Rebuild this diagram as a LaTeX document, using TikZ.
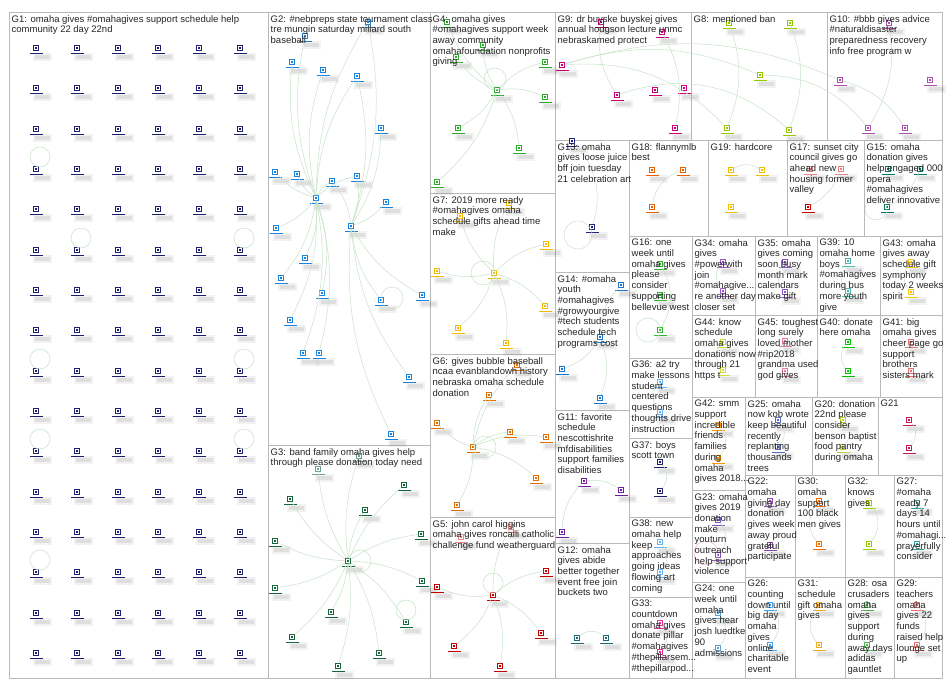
\documentclass[tikz,border=0pt]{standalone}
\usepackage{fontspec}
\setmainfont{Liberation Sans}
\definecolor{frame}{RGB}{185,185,185}
\definecolor{conncol}{RGB}{200,226,200}
\definecolor{cGa}{RGB}{30,30,110}
\definecolor{cGb}{RGB}{25,130,220}
\definecolor{cGc}{RGB}{20,100,60}
\definecolor{cGcl}{RGB}{110,160,140}
\definecolor{cGd}{RGB}{40,170,40}
\definecolor{cGe}{RGB}{195,0,0}
\definecolor{cGel}{RGB}{235,140,140}
\definecolor{cGf}{RGB}{225,110,0}
\definecolor{cGg}{RGB}{245,185,0}
\definecolor{cGh}{RGB}{150,200,0}
\definecolor{cGi}{RGB}{205,0,120}
\definecolor{cGj}{RGB}{170,80,170}
\definecolor{cGk}{RGB}{110,30,160}
\definecolor{cGl}{RGB}{25,105,120}
\definecolor{cGm}{RGB}{30,35,125}
\definecolor{cGn}{RGB}{25,118,210}
\definecolor{cGo}{RGB}{0,120,100}
\definecolor{cGp}{RGB}{45,180,45}
\definecolor{cGq}{RGB}{200,0,0}
\definecolor{cGql}{RGB}{230,130,130}
\definecolor{cGr}{RGB}{230,95,0}
\definecolor{cGs}{RGB}{240,190,0}
\definecolor{cGt}{RGB}{190,205,60}
\definecolor{cGu}{RGB}{195,25,90}
\definecolor{cGv}{RGB}{140,70,175}
\definecolor{cGw}{RGB}{125,85,195}
\definecolor{cGx}{RGB}{90,160,210}
\definecolor{cGy}{RGB}{90,105,190}
\definecolor{cGz}{RGB}{65,165,245}
\definecolor{cHa}{RGB}{38,166,154}
\definecolor{cHb}{RGB}{76,175,80}
\definecolor{cHc}{RGB}{230,110,110}
\definecolor{cHd}{RGB}{239,108,0}
\definecolor{cHe}{RGB}{245,170,30}
\definecolor{cHf}{RGB}{155,205,0}
\definecolor{cHg}{RGB}{230,40,150}
\definecolor{cHh}{RGB}{156,90,200}
\definecolor{cHi}{RGB}{140,80,200}
\definecolor{cHj}{RGB}{100,180,245}
\definecolor{cHk}{RGB}{77,182,172}
\definecolor{cHl}{RGB}{0,190,0}
\definecolor{cHm}{RGB}{255,150,0}
\definecolor{cHn}{RGB}{255,193,7}
\definecolor{cHo}{RGB}{205,220,57}
\definecolor{cHp}{RGB}{230,115,160}
\definecolor{loopred}{RGB}{240,180,180}
\tikzset{
  grp/.style={draw=frame,line width=0.9pt},
  lbl/.style={anchor=north west,inner sep=0pt,align=left,font=\fontsize{9.5}{10.7}\selectfont,text=black!85},
  vtx/.style={draw,line width=1.1pt,fill=white,minimum size=5.5pt,inner sep=0pt,outer sep=0pt},
  conn/.style={draw=conncol,line width=0.5pt},
}
\newcommand{\vtxat}[4]{%
  \fill[black,opacity=0.05] (#2-3,#3+5) rectangle (#2+16,#3+12.5);
  \fill[black,opacity=0.08] (#2-1,#3+6.5) rectangle (#2+14,#3+11);
  \draw[#4,line width=1.1pt] (#2-6,#3+5.8) -- (#2+7,#3+5.8);
  \node[vtx,draw=#4] (#1) at (#2,#3) {};
  \fill[#4] (#2-1.2,#3-1.2) rectangle (#2+1.2,#3+1.2);
}
% self loop: circle through the vertex, centre offset from the node
\newcommand{\selfloop}[3]{\draw[conn] (#1.center) ++(#2) circle (#3);}
\begin{document}
\begin{tikzpicture}[x=1pt,y=-1pt]
\useasboundingbox (0,0) rectangle (950,688);
\fill[white] (0,0) rectangle (950,688);

% ---------- frames ----------
\draw[grp] (9,12) rectangle (268,678);
\draw[grp] (268,12) rectangle (430,445);
\draw[grp] (268,445) rectangle (430,678);
\draw[grp] (430,12) rectangle (555,193);
\draw[grp] (430,193) rectangle (555,354);
\draw[grp] (430,354) rectangle (555,517);
\draw[grp] (430,517) rectangle (555,678);
\draw[grp] (555,12) rectangle (691,140);
\draw[grp] (691,12) rectangle (827,140);
\draw[grp] (827,12) rectangle (942,140);
\draw[grp] (555,140) rectangle (629,272);
\draw[grp] (629,140) rectangle (708,236);
\draw[grp] (708,140) rectangle (787,236);
\draw[grp] (787,140) rectangle (864,236);
\draw[grp] (864,140) rectangle (942,236);
\draw[grp] (629,236) rectangle (692,358);
\draw[grp] (692,236) rectangle (755,315);
\draw[grp] (755,236) rectangle (817,315);
\draw[grp] (817,236) rectangle (880,315);
\draw[grp] (880,236) rectangle (942,315);
\draw[grp] (692,315) rectangle (755,397);
\draw[grp] (755,315) rectangle (817,397);
\draw[grp] (817,315) rectangle (880,397);
\draw[grp] (880,315) rectangle (942,397);
\draw[grp] (555,272) rectangle (629,410);
\draw[grp] (555,410) rectangle (629,543);
\draw[grp] (555,543) rectangle (629,678);
\draw[grp] (629,358) rectangle (692,438);
\draw[grp] (629,438) rectangle (692,517);
\draw[grp] (629,517) rectangle (692,597);
\draw[grp] (629,597) rectangle (692,678);
\draw[grp] (692,397) rectangle (745,490);
\draw[grp] (692,490) rectangle (745,582);
\draw[grp] (692,582) rectangle (745,678);
\draw[grp] (745,397) rectangle (812,475);
\draw[grp] (812,397) rectangle (878,475);
\draw[grp] (878,397) rectangle (942,475);
\draw[grp] (745,475) rectangle (795,577);
\draw[grp] (795,475) rectangle (845,577);
\draw[grp] (845,475) rectangle (894,577);
\draw[grp] (894,475) rectangle (942,577);
\draw[grp] (745,577) rectangle (795,678);
\draw[grp] (795,577) rectangle (845,678);
\draw[grp] (845,577) rectangle (894,678);
\draw[grp] (894,577) rectangle (942,678);

% ---------- G1 grid ----------
\foreach \c [count=\ci] in {36,77,118,158,199,240}{
  \foreach \r [count=\ri] in {48,88,129,169,209,250,290,330,371,411,451,492,532,572,613,653}{
    \vtxat{ga\ci x\ri}{\c}{\r}{cGa}
  }
}
\selfloop{ga1x4}{4,-12}{10}
\selfloop{ga2x6}{4,-12}{10}
\selfloop{ga6x6}{4,-12}{10}
\selfloop{ga1x9}{4,-12}{10}
\selfloop{ga6x9}{4,-12}{10}
\selfloop{ga1x11}{4,-12}{10}
\selfloop{ga6x11}{4,-12}{10}
\selfloop{ga1x14}{4,-12}{10}

% ---------- G2 ----------
\vtxat{gb1}{368}{22}{cGb}
\vtxat{gb2}{305}{36}{cGb}
\vtxat{gb3}{292}{62}{cGb}
\vtxat{gb4}{323}{70}{cGb}
\vtxat{gb5}{357}{76}{cGb}
\vtxat{gb6}{381}{128}{cGb}
\vtxat{gb7}{275}{172}{cGb}
\vtxat{gb8}{297}{174}{cGb}
\vtxat{gb9}{332}{181}{cGb}
\vtxat{gb10}{357}{176}{cGb}
\vtxat{gbh}{316}{198}{cGb}
\vtxat{gb12}{386}{202}{cGb}
\vtxat{gb13}{276}{228}{cGb}
\vtxat{gbk}{351}{226}{cGb}
\vtxat{gb15}{305}{258}{cGb}
\vtxat{gb16}{281}{278}{cGb}
\vtxat{gb17}{322}{293}{cGb}
\vtxat{gb18}{381}{300}{cGb}
\vtxat{gb19}{422}{295}{cGb}
\vtxat{gb20}{290}{320}{cGb}
\vtxat{gb21}{303}{353}{cGb}
\vtxat{gb22}{319}{353}{cGb}
\vtxat{gb23}{409}{377}{cGb}
\vtxat{gb24}{391}{434}{cGb}
\foreach \t in {gb1,gb2,gb3,gb4,gb5,gb7,gb8,gb9,gb10,gb13,gb15,gb16,gb17,gb20,gb21,gb22}{
  \draw[conn] (gbh) to[bend left=15] (\t);
}
\foreach \t in {gb1,gb5,gb6,gb10,gb12,gb18,gb19,gb23,gb24,gb9}{
  \draw[conn] (gbk) to[bend right=15] (\t);
}
\selfloop{gb18}{11,-2}{11}

% ---------- G3 ----------
\vtxat{gc1}{359}{456}{cGcl}
\vtxat{gc2}{318}{469}{cGcl}
\vtxat{gc3}{404}{485}{cGc}
\vtxat{gc4}{290}{499}{cGc}
\vtxat{gc5}{365}{510}{cGc}
\vtxat{gc6}{275}{541}{cGc}
\vtxat{gc7}{421}{534}{cGc}
\vtxat{gch}{348}{561}{cGc}
\vtxat{gc9}{275}{588}{cGc}
\vtxat{gc10}{422}{581}{cGc}
\vtxat{gc11}{331}{612}{cGc}
\vtxat{gc12}{406}{622}{cGc}
\vtxat{gc13}{292}{637}{cGc}
\vtxat{gc14}{379}{653}{cGc}
\vtxat{gc15}{338}{666}{cGc}
\foreach \t in {gc1,gc2,gc3,gc4,gc5,gc6,gc7,gc9,gc10,gc11,gc12,gc13,gc14,gc15}{\draw[conn] (gch) to[bend left=12] (\t);}
\selfloop{gch}{12,0}{11}
\selfloop{gc12}{0,-12}{10}

% ---------- G4 ----------
\vtxat{gd1}{447}{22}{cGd}
\vtxat{gd2}{483}{45}{cGd}
\vtxat{gd3}{456}{57}{cGd}
\vtxat{gd4}{545}{62}{cGd}
\vtxat{gd5}{545}{97}{cGd}
\vtxat{gd6}{497}{90}{cGd}
\vtxat{gd7}{458}{128}{cGd}
\vtxat{gd8}{519}{148}{cGd}
\vtxat{gd9}{437}{182}{cGd}
\foreach \t in {gd1,gd2,gd3,gd4,gd5,gd7,gd8,gd9}{\draw[conn] (gd6) to[bend left=15] (\t);}
\selfloop{gd6}{-2,-11}{11}

% ---------- G5 ----------
\vtxat{ge1}{546}{571}{cGe}
\vtxat{ge2}{437}{587}{cGe}
\vtxat{geh}{493}{595}{cGe}
\vtxat{ge4}{541}{633}{cGe}
\vtxat{ge5}{454}{646}{cGe}
\vtxat{ge6}{500}{666}{cGe}
\vtxat{ge7}{511}{527}{cGel}
\vtxat{ge8}{461}{537}{cGel}
\foreach \t in {ge1,ge2,ge4,ge5,ge6,ge7}{\draw[conn] (geh) to[bend left=15] (\t);}
\selfloop{geh}{0,-12}{10}

% ---------- G6 ----------
\vtxat{gf1}{517}{365}{cGf}
\vtxat{gf2}{489}{395}{cGf}
\vtxat{gf3}{437}{423}{cGf}
\vtxat{gf4}{510}{432}{cGf}
\vtxat{gf5}{473}{447}{cGf}
\vtxat{gf6}{546}{437}{cGf}
\vtxat{gf7}{536}{478}{cGf}
\vtxat{gf8}{457}{505}{cGf}
\foreach \t in {gf1,gf2,gf3,gf4,gf6,gf7,gf8}{\draw[conn] (gf5) to[bend left=15] (\t);}
\selfloop{gf5}{12,0}{11}

% ---------- G7 ----------
\vtxat{gg1}{509}{203}{cGg}
\vtxat{gg2}{460}{216}{cGg}
\vtxat{gg3}{546}{244}{cGg}
\vtxat{gg4}{437}{271}{cGg}
\vtxat{ggh}{494}{273}{cGg}
\vtxat{gg6}{545}{306}{cGg}
\vtxat{gg7}{458}{328}{cGg}
\vtxat{gg8}{506}{343}{cGg}
\foreach \t in {gg1,gg2,gg3,gg4,gg6,gg7,gg8}{\draw[conn] (ggh) to[bend left=15] (\t);}
\selfloop{ggh}{-11,0}{12}

% ---------- G8 / G9 / G10 ----------
\vtxat{gi1}{601}{22}{cGi}
\vtxat{gi2}{662}{32}{cGi}
\vtxat{gi3}{562}{65}{cGi}
\vtxat{gi4}{617}{95}{cGi}
\vtxat{gi5}{655}{90}{cGi}
\vtxat{gi6}{684}{88}{cGi}
\vtxat{gi7}{675}{128}{cGi}
\vtxat{gh1}{729}{23}{cGh}
\vtxat{gh2}{790}{23}{cGh}
\vtxat{gh3}{760}{75}{cGh}
\vtxat{gh4}{727}{128}{cGh}
\vtxat{gh5}{789}{130}{cGh}
\vtxat{gj1}{889}{23}{cGj}
\vtxat{gj2}{840}{80}{cGj}
\vtxat{gj3}{868}{128}{cGj}
\vtxat{gj4}{905}{128}{cGj}
\vtxat{gj5}{930}{80}{cGj}
\draw[conn] (gi3) to[bend left=20] (gh3);
\draw[conn] (gi3) to[bend left=20] (gj2);
\draw[conn] (gi3) to[bend left=25] (gh4);
\draw[conn] (gi1) to[bend right=20] (gi4);
\draw[conn] (gi2) to[bend left=20] (gi7);
\draw[conn] (gi4) to[bend left=30] (gh5);
\draw[conn] (gh1) to[bend left=20] (gh4);
\draw[conn] (gh2) to[bend left=20] (gh5);
\draw[conn] (gh3) to[bend left=25] (gj3);
\draw[conn] (gj1) to[bend left=20] (gj3);
\draw[conn] (gj2) to[bend left=20] (gj4);

% ---------- small groups ----------
\vtxat{gm1}{572}{141}{cGm}
\vtxat{gm2}{592}{227}{cGm}
\draw[conn] (gm1) to[bend left=30] (gm2);
\selfloop{gm2}{-14,8}{14}
\vtxat{gr1}{652}{170}{cGr}
\vtxat{gr2}{683}{170}{cGr}
\vtxat{gr3}{652}{207}{cGr}
\draw[conn] (gr2) to[bend right=30] (gr3);
\vtxat{gs1}{731}{170}{cGs}
\vtxat{gs2}{762}{170}{cGs}
\vtxat{gs3}{731}{207}{cGs}
\draw[conn] (gs2) to[bend right=30] (gs1);
\vtxat{gq1}{810}{169}{cGql}
\vtxat{gq2}{841}{169}{cGql}
\vtxat{gq3}{808}{207}{cGq}
\draw[conn] (gq2) to[bend left=20] (gq3);
\vtxat{go1}{888}{169}{cGo}
\vtxat{go2}{920}{169}{cGo}
\vtxat{go3}{887}{207}{cGo}
\draw[conn] (go2) to[bend left=20] (go3);
\selfloop{go3}{-11,2}{11}
\vtxat{gp1}{660}{264}{cGp}
\vtxat{gp2}{660}{295}{cGp}
\vtxat{gp3}{660}{330}{cGp}
\draw[conn] (gp1) to[bend left=30] (gp3);
\selfloop{gp3}{-12,0}{12}
\vtxat{hh1}{723}{262}{cHh}
\vtxat{hh2}{723}{291}{cHh}
\draw[conn] (hh1) to[bend right=40] (hh2);
\vtxat{hi1}{785}{262}{cHi}
\vtxat{hi2}{785}{292}{cHi}
\draw[conn] (hi1) to[bend right=40] (hi2);
\vtxat{hk1}{848}{261}{cHk}
\vtxat{hk2}{848}{291}{cHk}
\draw[conn] (hk1) to[bend right=40] (hk2);
\vtxat{hn1}{911}{262}{cHn}
\vtxat{hn2}{911}{292}{cHn}
\draw[conn] (hn1) to[bend right=40] (hn2);
\vtxat{ho1}{723}{342}{cHo}
\vtxat{ho2}{723}{370}{cHo}
\draw[conn] (ho1) to[bend right=40] (ho2);
\vtxat{hp1}{785}{341}{cHp}
\vtxat{hp2}{785}{371}{cHp}
\draw[conn] (hp1) to[bend right=40] (hp2);
\vtxat{hl1}{848}{342}{cHl}
\vtxat{hl2}{848}{371}{cHl}
\draw[conn] (hl1) to[bend right=40] (hl2);
\vtxat{hc1}{911}{342}{cHc}
\vtxat{hc2}{911}{371}{cHc}
\draw[conn] (hc1) to[bend right=40] (hc2);
\vtxat{hj1}{660}{382}{cHj}
\vtxat{hj2}{660}{412}{cHj}
\draw[conn] (hj1) to[bend right=40] (hj2);
\vtxat{gm3}{660}{462}{cGa}
\vtxat{gm4}{660}{491}{cGa}
\draw[conn] (gm3) to[bend left=40] (gm4);
\vtxat{hj3}{660}{542}{cHj}
\vtxat{hj4}{660}{572}{cHj}
\draw[conn] (hj3) to[bend left=40] (hj4);
\vtxat{hg1}{660}{623}{cHg}
\vtxat{hg2}{660}{652}{cHg}
\draw[conn] (hg1) to[bend left=40] (hg2);
\vtxat{hm1}{718}{425}{cHm}
\vtxat{hm2}{718}{458}{cHm}
\draw[conn] (hm1) to[bend left=40] (hm2);
\vtxat{gw1}{718}{520}{cGw}
\vtxat{gw2}{718}{555}{cGw}
\draw[conn] (gw1) to[bend left=40] (gw2);
\draw[draw=loopred,line width=0.5pt] (gw2.center) ++(-12,-2) circle (12);
\vtxat{gx1}{718}{613}{cGx}
\vtxat{gx2}{718}{648}{cGx}
\draw[conn] (gx1) to[bend left=40] (gx2);
\vtxat{gy1}{778}{420}{cGy}
\vtxat{gy2}{778}{447}{cGy}
\draw[conn] (gy1) to[bend left=40] (gy2);
\vtxat{gt1}{843}{420}{cGt}
\vtxat{gt2}{843}{447}{cGt}
\draw[conn] (gt1) to[bend left=40] (gt2);
\vtxat{gu1}{909}{420}{cGu}
\vtxat{gu2}{909}{448}{cGu}
\draw[conn] (gu1) to[bend left=40] (gu2);
\vtxat{gv1}{770}{501}{cGv}
\vtxat{gv2}{770}{545}{cGv}
\draw[conn] (gv1) to[bend left=40] (gv2);
\vtxat{hd1}{819}{501}{cHd}
\vtxat{hd2}{819}{544}{cHd}
\draw[conn] (hd1) to[bend right=40] (hd2);
\vtxat{hf1}{869}{503}{cHf}
\vtxat{hf2}{869}{544}{cHf}
\draw[conn] (hf1) to[bend left=40] (hf2);
\vtxat{ha1}{917}{503}{cHa}
\vtxat{ha2}{917}{544}{cHa}
\draw[conn] (ha1) to[bend left=40] (ha2);
\vtxat{gz1}{770}{605}{cGz}
\vtxat{gz2}{770}{645}{cGz}
\draw[conn] (gz1) to[bend left=40] (gz2);
\vtxat{he1}{819}{605}{cHe}
\vtxat{he2}{819}{645}{cHe}
\draw[conn] (he1) to[bend right=40] (he2);
\vtxat{hb1}{867}{605}{cHb}
\vtxat{hb2}{867}{645}{cHb}
\draw[conn] (hb1) to[bend right=40] (hb2);
\vtxat{hc3}{917}{605}{cHc}
\vtxat{hc4}{917}{645}{cHc}
\draw[conn] (hc3) to[bend left=40] (hc4);
\vtxat{gn1}{621}{285}{cGn}
\vtxat{gn2}{600}{337}{cGn}
\vtxat{gn3}{562}{369}{cGn}
\vtxat{gn4}{600}{398}{cGn}
\foreach \t in {gn1,gn3,gn4}{\draw[conn] (gn2) to[bend left=20] (\t);}
\vtxat{gk1}{584}{481}{cGk}
\vtxat{gk2}{621}{490}{cGk}
\vtxat{gk3}{562}{532}{cGk}
\draw[conn] (gk1) to[bend left=20] (gk2);
\draw[conn] (gk1) to[bend right=20] (gk3);
\vtxat{gl1}{577}{638}{cGl}
\vtxat{gl2}{606}{638}{cGl}
\draw[conn] (gl1) to[bend left=40] (gl2);

% ---------- labels ----------
\node[lbl] (t1) at (11.5,15) {G1: omaha gives \#omahagives support schedule help\\community 22 day 22nd};
\node[lbl] (t2) at (270.5,15) {G2: \#nebpreps state tournament class\\tre mungin saturday millard south\\baseball};
\node[lbl] (t3) at (270.5,448) {G3: band family omaha gives help\\through please donation today need};
\node[lbl] (t4) at (432.5,15) {G4: omaha gives\\\#omahagives support week\\away community\\omahafoundation nonprofits\\giving};
\node[lbl] (t5) at (432.5,520) {G5: john carol higgins\\omaha gives roncalli catholic\\challenge fund weatherguard};
\node[lbl] (t6) at (432.5,357) {G6: gives bubble baseball\\ncaa evanblandowh history\\nebraska omaha schedule\\donation};
\node[lbl] (t7) at (432.5,196) {G7: 2019 more ready\\\#omahagives omaha\\schedule gifts ahead time\\make};
\node[lbl] (t8) at (693.5,15) {G8: mentioned ban};
\node[lbl] (t9) at (557.5,15) {G9: dr buyske buyskej gives\\annual hodgson lecture unmc\\nebraskamed protect};
\node[lbl] (t10) at (829.5,15) {G10: \#bbb gives advice\\\#naturaldisaster\\preparedness recovery\\info free program w};
\node[lbl] (t11) at (557.5,413) {G11: favorite\\schedule\\nescottishrite\\mfdisabilities\\support families\\disabilities};
\node[lbl] (t12) at (557.5,546) {G12: omaha\\gives abide\\better together\\event free join\\buckets two};
\node[lbl] (t13) at (557.5,143) {G13: omaha\\gives loose juice\\bff join tuesday\\21 celebration art};
\node[lbl] (t14) at (557.5,275) {G14: \#omaha\\youth\\\#omahagives\\\#growyourgive\\\#tech students\\schedule tech\\programs cost};
\node[lbl] (t15) at (866.5,143) {G15: omaha\\donation gives\\help engaged 000\\opera\\\#omahagives\\deliver innovative};
\node[lbl] (t16) at (631.5,239) {G16: one\\week until\\omaha gives\\please\\consider\\supporting\\bellevue west};
\node[lbl] (t17) at (789.5,143) {G17: sunset city\\council gives go\\ahead new\\housing former\\valley};
\node[lbl] (t18) at (631.5,143) {G18: flannymlb\\best};
\node[lbl] (t19) at (710.5,143) {G19: hardcore};
\node[lbl] (t20) at (814.5,400) {G20: donation\\22nd please\\consider\\benson baptist\\food pantry\\during omaha};
\node[lbl] (t21) at (880.5,400) {G21};
\node[lbl] (t22) at (747.5,478) {G22:\\omaha\\giving day\\donation\\gives week\\away proud\\grateful\\participate};
\node[lbl] (t23) at (694.5,493) {G23: omaha\\gives 2019\\donation\\make\\youturn\\outreach\\help support\\violence};
\node[lbl] (t24) at (694.5,585) {G24: one\\week until\\omaha\\gives hear\\josh luedtke\\90\\admissions};
\node[lbl] (t25) at (747.5,400) {G25: omaha\\now kob wrote\\keep beautiful\\recently\\replanting\\thousands\\trees};
\node[lbl] (t26) at (747.5,580) {G26:\\counting\\down until\\big day\\omaha\\gives\\online\\charitable\\event};
\node[lbl] (t27) at (896.5,478) {G27:\\\#omaha\\ready 7\\days 14\\hours until\\\#omahagi...\\prayerfully\\consider};
\node[lbl] (t28) at (847.5,580) {G28: osa\\crusaders\\omaha\\gives\\support\\during\\away days\\adidas\\gauntlet};
\node[lbl] (t29) at (896.5,580) {G29:\\teachers\\omaha\\gives 22\\funds\\raised help\\lounge set\\up};
\node[lbl] (t30) at (797.5,478) {G30:\\omaha\\support\\100 black\\men gives};
\node[lbl] (t31) at (797.5,580) {G31:\\schedule\\gift omaha\\gives};
\node[lbl] (t32) at (847.5,478) {G32:\\knows\\gives};
\node[lbl] (t33) at (631.5,600) {G33:\\countdown\\omaha gives\\donate pillar\\\#omahagives\\\#thepillarsem...\\\#thepillarpod...};
\node[lbl] (t34) at (694.5,239) {G34: omaha\\gives\\\#powerwith\\join\\\#omahagive...\\re another day\\closer set};
\node[lbl] (t35) at (757.5,239) {G35: omaha\\gives coming\\soon busy\\month mark\\calendars\\make gift};
\node[lbl] (t36) at (631.5,361) {G36: a2 try\\make lessons\\student\\centered\\questions\\thoughts drive\\instruction};
\node[lbl] (t37) at (631.5,441) {G37: boys\\scott town};
\node[lbl] (t38) at (631.5,520) {G38: new\\omaha help\\keep\\approaches\\going ideas\\flowing art\\coming};
\node[lbl] (t39) at (819.5,239) {G39: 10\\omaha home\\boys\\\#omahagives\\during bus\\more youth\\give};
\node[lbl] (t40) at (819.5,318) {G40: donate\\here omaha};
\node[lbl] (t41) at (882.5,318) {G41: big\\omaha gives\\cheer page go\\support\\brothers\\sisters mark};
\node[lbl] (t42) at (694.5,400) {G42: smm\\support\\incredible\\friends\\families\\during\\omaha\\gives 2018...};
\node[lbl] (t43) at (882.5,239) {G43: omaha\\gives away\\schedule gift\\symphony\\today 2 weeks\\spirit};
\node[lbl] (t44) at (694.5,318) {G44: know\\schedule\\omaha gives\\donations now\\through 21\\https t};
\node[lbl] (t45) at (757.5,318) {G45: toughest\\long surely\\loved mother\\\#rip2018\\grandma used\\god gives};
\end{tikzpicture}
\end{document}
